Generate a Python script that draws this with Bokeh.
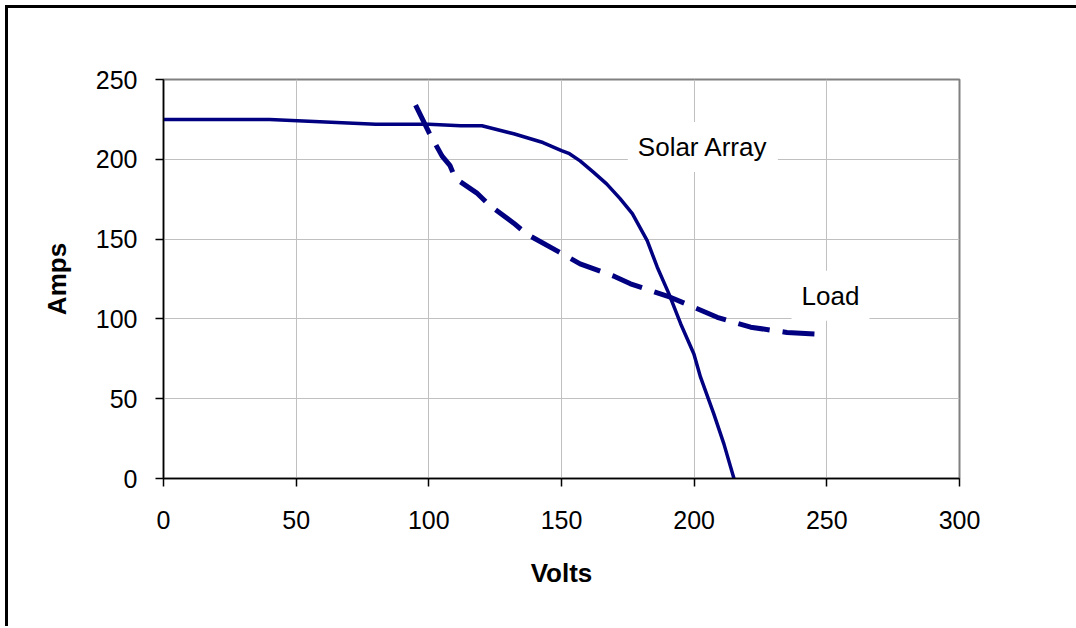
from bokeh.plotting import figure
from bokeh.models import FixedTicker, Label, Range1d, Div
from bokeh.layouts import column, row
from bokeh.embed import file_html
from bokeh.resources import INLINE

# Data
solar_v = [0, 40, 80, 100, 112, 120, 132, 143, 150, 153, 157, 162, 167, 172, 176.7, 182.3, 186.1, 190.5, 194.9, 199.9, 202.4, 207.4, 211.2, 215]
solar_a = [225, 225, 222, 222, 221, 221, 216, 210.5, 205.5, 203.5, 199, 192, 184.6, 175.5, 166, 149, 132.4, 115.7, 97, 78, 63.5, 40.5, 21.7, 0]

load_v = [95, 100, 105, 108, 110, 118, 123, 132, 137, 149, 157, 170, 176, 191, 208.7, 221.3, 235, 246]
load_a = [234, 217, 202, 196, 188, 179, 171, 160, 153, 142, 134.5, 126.6, 122, 113.6, 101, 94.8, 91.5, 90.5]

x_ticks = [0, 50, 100, 150, 200, 250, 300]
y_ticks = [0, 50, 100, 150, 200, 250]

FONT = "Liberation Sans"
NAVY = "#000080"

p = figure(
    output_backend="svg", toolbar_location=None,
    frame_width=796, frame_height=399,
    min_border_left=155, min_border_top=71, min_border_right=117, min_border_bottom=148,
    x_range=Range1d(0, 300), y_range=Range1d(0, 250),
)
p.background_fill_color = "white"
p.border_fill_color = "white"
p.outline_line_color = "#808080"
p.outline_line_width = 2

p.line(solar_v, solar_a, line_color=NAVY, line_width=3.5)
p.line(load_v, load_a, line_color=NAVY, line_width=5, line_dash="32 13")

for ax, ticks in ((p.xaxis, x_ticks), (p.yaxis, y_ticks)):
    ax.ticker = FixedTicker(ticks=ticks)
    ax.axis_line_color = "black"
    ax.axis_line_width = 1.5
    ax.major_tick_line_color = "black"
    ax.major_tick_line_width = 1.5
    ax.major_tick_out = 8
    ax.major_tick_in = 0
    ax.minor_tick_line_color = None
    ax.major_label_text_font = FONT
    ax.major_label_text_font_size = "25px"
    ax.major_label_text_color = "black"
    ax.axis_label_text_font = FONT
    ax.axis_label_text_font_size = "26px"
    ax.axis_label_text_font_style = "bold"
    ax.axis_label_text_color = "black"

p.xaxis.axis_label = "Volts"
p.yaxis.axis_label = "Amps"
p.xaxis.major_label_standoff = 24
p.yaxis.major_label_standoff = 18
p.xaxis.axis_label_standoff = 26
p.yaxis.axis_label_standoff = 21

p.xgrid.grid_line_color = "#c0c0c0"
p.ygrid.grid_line_color = "#c0c0c0"
p.xgrid.ticker = FixedTicker(ticks=x_ticks)
p.ygrid.ticker = FixedTicker(ticks=y_ticks)

p.add_layout(Label(x=175, y=207.7, text="Solar Array", text_font=FONT, text_font_size="26px",
                   text_baseline="middle", text_align="left", text_color="black",
                   background_fill_color="white", padding=10))
p.add_layout(Label(x=236.7, y=114.5, text="Load", text_font=FONT, text_font_size="26px",
                   text_baseline="middle", text_align="left", text_color="black",
                   background_fill_color="white", padding=10))

# outer chart-area frame (left and top edges visible in the window)
top_bar = Div(text="", width=1071, height=3, margin=0, styles={"background-color": "black"})
left_bar = Div(text="", width=3, height=618, margin=0, styles={"background-color": "black"})
layout = column(top_bar, row(left_bar, p, spacing=0), spacing=0,
                styles={"margin-left": "5px", "margin-top": "5px"})

open("out.html", "w").write(file_html(layout, INLINE))
